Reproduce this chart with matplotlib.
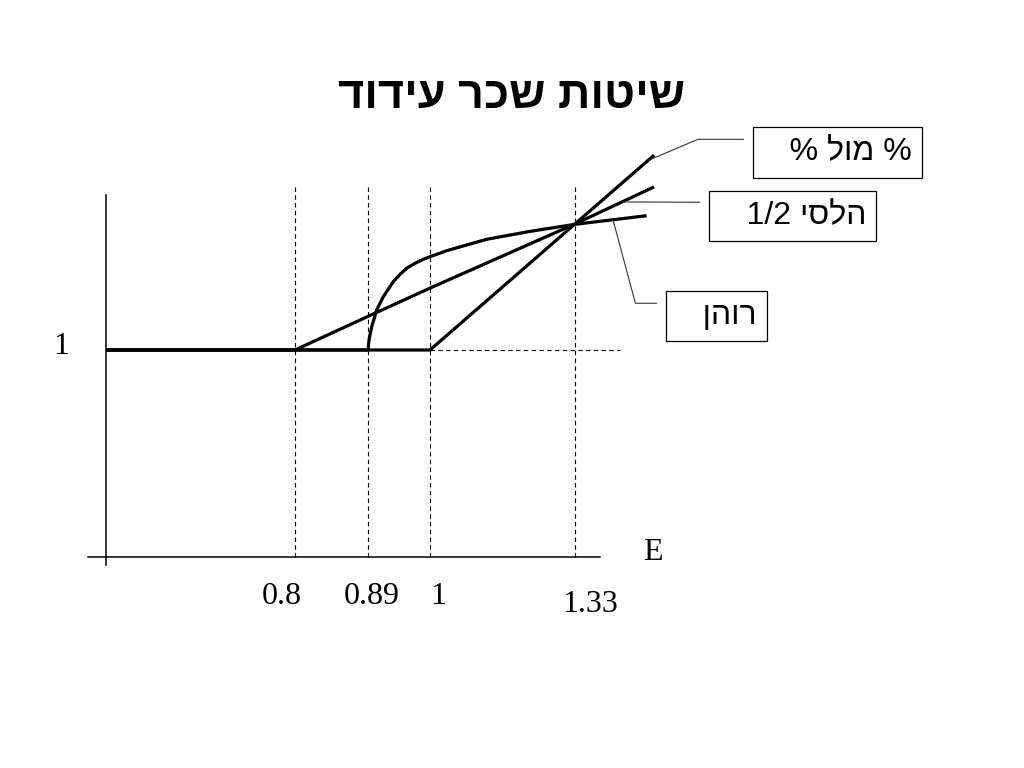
import numpy as np
import matplotlib.pyplot as plt

# chart text (logical order, converted to visual order below)
title = "שיטות שכר עידוד"
plan_name = "% מול %"
halsey_name = "הלסי 1/2"
rowan_name = "רוהן"

# efficiency E on the x axis, relative pay on the y axis
e_ticks = [0.8, 0.89, 1.0, 1.33]
e_tick_labels = ["0.8", "0.89", "1", "1.33"]

plan_e = [0.0, 1.0, 1.33, 1.51]
plan_pay = [1.0, 1.0, 1.33, 1.51]

halsey_e = [0.0, 0.8, 0.89, 1.0, 1.33, 1.51]
halsey_pay = [1.0, 1.0, 1.088, 1.162, 1.33, 1.427]

rowan_e = [0.0, 0.89, 0.8918, 0.8935, 0.8966, 0.9054, 0.9171, 0.9349, 0.9468,
           0.9587, 0.9734, 0.9881, 1.0, 1.038, 1.0835, 1.129, 1.2276, 1.33, 1.4932]
rowan_pay = [1.0, 1.0, 1.026, 1.039, 1.061, 1.1047, 1.1395, 1.1788, 1.198,
             1.2139, 1.227, 1.2374, 1.2442, 1.26, 1.2749, 1.2898, 1.3105, 1.329, 1.3516]


def visual(s):
    # matplotlib has no bidi support: reverse word order and hebrew words
    words = s.split(" ")[::-1]
    out = []
    for w in words:
        if any("\u0590" <= c <= "\u05ff" for c in w):
            w = w[::-1]
        out.append(w)
    return " ".join(out)


# schematic spacing of the E axis (not proportional in the original)
knot_e = [-1.0, 0.0, 0.8, 0.89, 1.0, 1.33, 3.0]
knot_u = [-130.25, 106, 295, 368, 430, 575, 1308.8]


def fwd(e):
    return np.interp(e, knot_e, knot_u)


def inv(u):
    return np.interp(u, knot_u, knot_e)


def pay_at(py):
    # vertical figure pixel -> pay units
    return 1 + (350 - py) / 382.0


serif = ["Liberation Serif", "DejaVu Serif"]
sans = ["Liberation Sans", "DejaVu Sans"]

fig = plt.figure(figsize=(10.24, 7.68), dpi=100)
ax = fig.add_axes([0, 0, 1, 1])
ax.set_xscale("function", functions=(fwd, inv))
ax.set_xlim(inv(0), inv(1024))
ax.set_ylim(pay_at(768), pay_at(0))
ax.patch.set_visible(False)
ax.set_xticks([])
ax.set_yticks([])

for side in ["top", "right"]:
    ax.spines[side].set_visible(False)
ax.spines["left"].set_position(("data", 0))
ax.spines["left"].set_bounds(pay_at(565), pay_at(195))
x_axis_pay = pay_at(557)
ax.spines["bottom"].set_position(("data", x_axis_pay))
ax.spines["bottom"].set_bounds(inv(88), inv(600))
for side in ["left", "bottom"]:
    ax.spines[side].set_linewidth(1.1)
    ax.spines[side].set_color("black")

# guide lines
ax.vlines(e_ticks, x_axis_pay, pay_at(184), colors="black",
          linestyles=(0, (4, 3)), linewidth=0.8)
ax.hlines(1.0, 1.0, inv(620), colors="black",
          linestyles=(0, (4, 3)), linewidth=0.8)

# curves
for xs, ys in [(plan_e, plan_pay), (halsey_e, halsey_pay), (rowan_e, rowan_pay)]:
    ax.plot(xs, ys, color="black", linewidth=2.3, solid_capstyle="butt",
            solid_joinstyle="round")

# axis labels
offsets = [(-13, -39), (4, -39), (8, -39), (15, -48)]
for e, lab, (dx, dy) in zip(e_ticks, e_tick_labels, offsets):
    ax.annotate(lab, (e, x_axis_pay), xytext=(dx, dy), textcoords="offset pixels",
                ha="center", va="center", fontsize=23, family=serif)
ax.annotate("1", (0, 1.0), xytext=(-45, 3), textcoords="offset pixels",
            ha="center", va="center", fontsize=23, family=serif)
ax.annotate("E", (inv(600), x_axis_pay), xytext=(53, 4), textcoords="offset pixels",
            ha="center", va="center", fontsize=23, family=serif)

ax.text(inv(512), pay_at(96), visual(title), ha="center", va="center",
        fontsize=32.5, fontweight="bold", family=sans)

# boxed curve names with leader lines (text sits to the right of its box)
box = dict(boxstyle="square,pad=0.32", fc="white", ec="black", lw=0.9)
lead = dict(arrowstyle="-", color="#333333", lw=0.8, shrinkA=6.5, shrinkB=0)
lpad = "   "

ax.annotate(lpad + visual(plan_name), xy=(1.496, np.interp(1.496, plan_e, plan_pay)),
            xytext=(inv(912), pay_at(152.5)), textcoords="data",
            ha="right", va="center", fontsize=23, family=sans, bbox=box,
            arrowprops=dict(lead, relpos=(0, 0.94),
                            connectionstyle="angle,angleA=0,angleB=23,rad=0"))

ax.annotate(lpad + visual(halsey_name), xy=(1.437, np.interp(1.437, halsey_e, halsey_pay)),
            xytext=(inv(866), pay_at(216)), textcoords="data",
            ha="right", va="center", fontsize=23, family=sans, bbox=box,
            arrowprops=dict(lead, relpos=(0, 0.955)))

ax.annotate(lpad + visual(rowan_name), xy=(1.4165, np.interp(1.4165, rowan_e, rowan_pay)),
            xytext=(inv(757), pay_at(316)), textcoords="data",
            ha="right", va="center", fontsize=23, family=sans, bbox=box,
            arrowprops=dict(lead, relpos=(0, 0.925),
                            connectionstyle="angle,angleA=0,angleB=105,rad=0"))

fig.savefig("out.png", dpi=100)
